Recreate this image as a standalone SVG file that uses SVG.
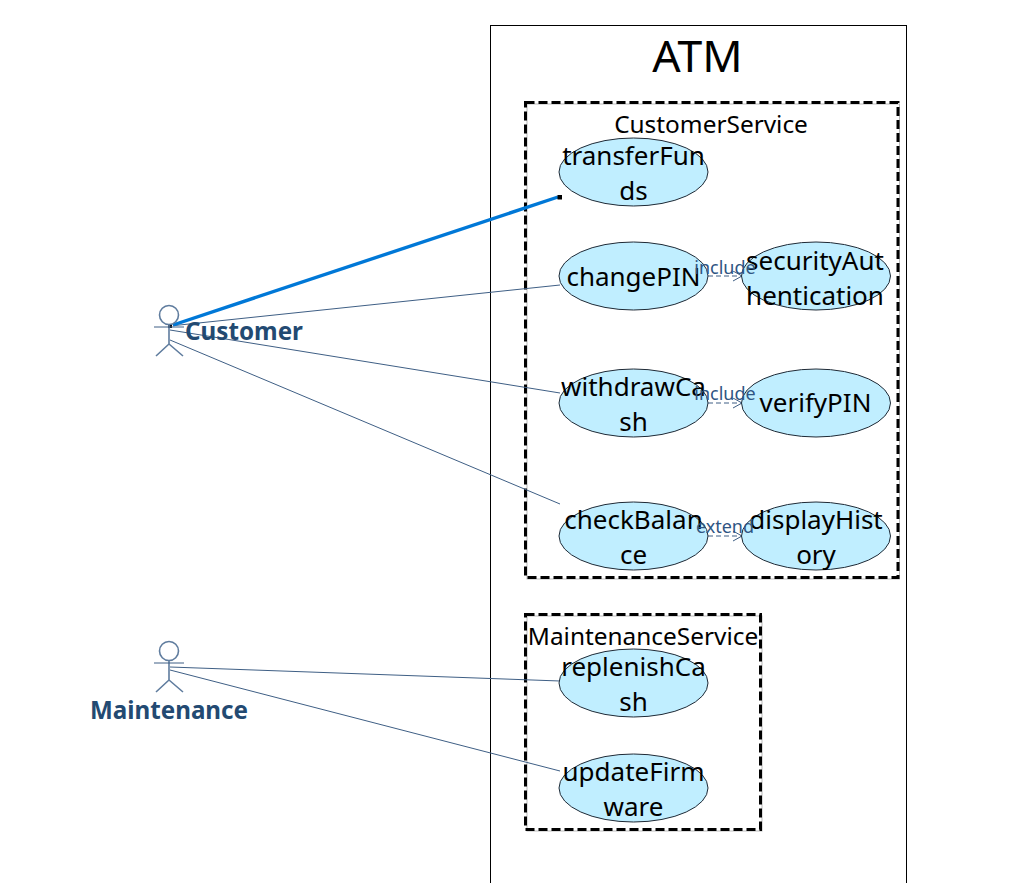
<svg xmlns="http://www.w3.org/2000/svg" width="1023" height="883" viewBox="0 0 1023 883">
<style>
text{font-family:"Noto Sans","Open Sans","Liberation Sans",sans-serif;text-anchor:middle}
.uc{fill:#c0eeff;stroke:#1f2a36;stroke-width:1}
.ut{font-size:26px;fill:#000}
.pkg{fill:none;stroke:#000;stroke-width:3;stroke-dasharray:9 4}
.pkgs{fill:none;stroke:#bbb;stroke-width:1}
.pt{font-size:24.400px;fill:#000}
.as{stroke:#3f5f85;stroke-width:1;fill:none}
.dep{stroke:#3f5f85;stroke-width:1;fill:none;stroke-dasharray:5 3;marker-end:url(#open)}
.dl{font-size:18px;fill:#2f5583}
.act{stroke:#5f7c9e;stroke-width:1.6;fill:none}
.al{font-size:24.200px;font-weight:700;fill:#234a72}
</style>
<defs><marker id="open" markerWidth="12" markerHeight="12" refX="10" refY="5" orient="auto" markerUnits="userSpaceOnUse"><path d="M1 0L10 5L1 10" fill="none" stroke="#3f5f85" stroke-width="1"/></marker></defs>
<g id="ATM"><rect x="490.5" y="25.5" width="416" height="870" fill="#fff" stroke="#000" stroke-width="1"/><text x="697.500" y="72" font-size="44.500" fill="#000">ATM</text></g>
<g id="CustomerService"><rect class="pkgs" x="527" y="104" width="372.500" height="475"/><rect class="pkg" x="525.500" y="102.500" width="372.500" height="475"/><text class="pt" x="711" y="133">CustomerService</text></g>
<g id="MaintenanceService"><rect class="pkgs" x="527" y="616" width="235" height="215"/><rect class="pkg" x="525.500" y="614.500" width="235" height="215"/><text class="pt" x="643" y="645">MaintenanceService</text></g>
<g id="connectors">
<path class="as" d="M170 326L560 285M170 330L560 393M170 340L560 504M170 667L560 681M170 670L560 771"/>
<path d="M173 325L558 197" stroke="#0078d7" stroke-width="3.400" fill="none"/>
<rect x="167.500" y="323.500" width="5" height="5" fill="#000" stroke="#fff" stroke-width="1"/>
<rect x="557.500" y="195" width="4.500" height="4.500" fill="#000"/>
<path class="dep" d="M708 276L742 276"/><path class="dep" d="M708 403L742 403"/><path class="dep" d="M708 536L742 536"/>
</g>
<g id="transferFunds"><ellipse class="uc" cx="633.500" cy="172" rx="74.500" ry="34"/><text class="ut" x="633.500" y="165">transferFun</text><text class="ut" x="633.500" y="200">ds</text></g>
<g id="changePIN"><ellipse class="uc" cx="633.500" cy="276" rx="74.500" ry="34"/><text class="ut" x="633.500" y="286">changePIN</text></g>
<g id="securityAuthentication"><ellipse class="uc" cx="816" cy="276" rx="74.500" ry="34"/><text class="ut" x="815" y="270">securityAut</text><text class="ut" x="815" y="305">hentication</text></g>
<g id="withdrawCash"><ellipse class="uc" cx="633.500" cy="403" rx="74.500" ry="34"/><text class="ut" x="633.500" y="396">withdrawCa</text><text class="ut" x="633.500" y="431">sh</text></g>
<g id="verifyPIN"><ellipse class="uc" cx="816" cy="403" rx="74.500" ry="34"/><text class="ut" x="815.500" y="412">verifyPIN</text></g>
<g id="checkBalance"><ellipse class="uc" cx="633.500" cy="536" rx="74.500" ry="34"/><text class="ut" x="633.500" y="529">checkBalan</text><text class="ut" x="633.500" y="564">ce</text></g>
<g id="displayHistory"><ellipse class="uc" cx="816" cy="536" rx="74.500" ry="34"/><text class="ut" x="816" y="529">displayHist</text><text class="ut" x="816" y="564">ory</text></g>
<g id="replenishCash"><ellipse class="uc" cx="633.500" cy="683" rx="74.500" ry="34"/><text class="ut" x="633.500" y="676">replenishCa</text><text class="ut" x="633.500" y="711">sh</text></g>
<g id="updateFirmware"><ellipse class="uc" cx="633.500" cy="788" rx="74.500" ry="34"/><text class="ut" x="633.500" y="781">updateFirm</text><text class="ut" x="633.500" y="816">ware</text></g>
<g id="labels"><text class="dl" x="725" y="274">include</text><text class="dl" x="725" y="400">include</text><text class="dl" x="725" y="533">extend</text></g>
<g id="Customer"><circle class="act" cx="169" cy="315" r="9.500"/><path class="act" d="M169 325V344M169 344L156 356M169 344L183 356"/><path d="M154 327H184" stroke="#3f5f85" stroke-width="1"/><text class="al" x="244" y="340">Customer</text></g>
<g id="Maintenance"><circle class="act" cx="169" cy="651" r="9.500"/><path class="act" d="M169 661V680M169 680L156 692M169 680L183 692"/><path d="M154 663H184" stroke="#3f5f85" stroke-width="1"/><text class="al" x="169" y="719">Maintenance</text></g>
</svg>
